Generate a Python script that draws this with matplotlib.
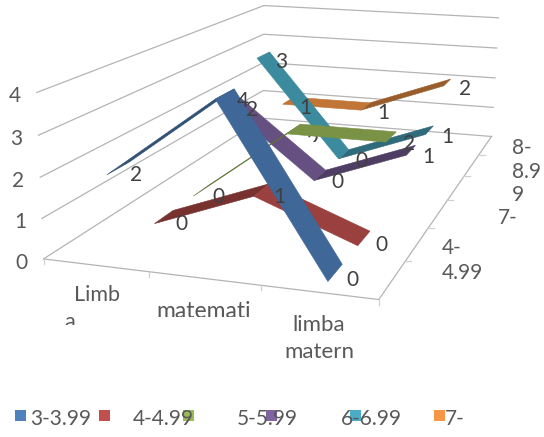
import numpy as np
import matplotlib
matplotlib.use("Agg")
import matplotlib.pyplot as plt
from matplotlib.patches import Polygon, Rectangle

# date
categorii = ["Limba\nromana", "matematica", "limba\nmaterna"]
serii = ["3-3.99", "4-4.99", "5-5.99", "6-6.99", "7-7.99", "8-8.99"]
v_3 = [2, 4, 0]
v_4 = [0, 1, 0]
v_5 = [0, 2, 2]
v_6 = [2, 0, 1]
v_7 = [3, 0, 1]
v_8 = [1, 1, 2]
valori = [v_3, v_4, v_5, v_6, v_7, v_8]  # ultima serie (8-8.99) nu apare in desen
culori = ["#4f81bd", "#c0504d", "#9bbb59", "#8064a2", "#4bacc6", "#f79646"]
y_max = 4

plt.rcParams["font.family"] = "Lato"
W, H = 544, 437
fig = plt.figure(figsize=(W / 100, H / 100), dpi=100)
ax = fig.add_axes([0, 0, 1, 1])
ax.set_xlim(0, W)
ax.set_ylim(H, 0)
ax.axis("off")

# camera: colturile cutiei (u, v, w) -> pixeli
colturi = [
    ((0, 0, 0), (44, 258)), ((1, 0, 0), (379, 300)),
    ((0, 1, 0), (262, 119)), ((1, 1, 0), (492, 136)),
    ((0, 0, 1), (36, 93)), ((0, 1, 1), (265, 5)), ((1, 1, 1), (498, 18)),
]
A = []
for (u, v, w), (x, y) in colturi:
    A.append([u, v, w, 1, 0, 0, 0, 0, -x * u, -x * v, -x * w, -x])
    A.append([0, 0, 0, 0, u, v, w, 1, -y * u, -y * v, -y * w, -y])
P = np.linalg.svd(np.array(A, float))[2][-1].reshape(3, 4)


def proj(u, v, w):
    q = P @ np.array([u, v, w, 1.0])
    return q[0] / q[2], q[1] / q[2]


def pos(i_cat, i_ser, val):
    return proj((i_cat + 0.5) / len(categorii), (i_ser + 0.5) / len(serii), val / y_max)


def umbra(c, f):
    return tuple(x * f for x in matplotlib.colors.to_rgb(c))


def text_taiat(x, y, s, fs, culoare, zona, zorder=3):
    # ax.text pune clip-ul pe axe, deci il setam dupa
    t = ax.text(x, y, s, fontsize=fs, color=culoare, ha="center", va="center", zorder=zorder, clip_on=True)
    t.set_clip_path(Rectangle(zona[:2], zona[2], zona[3], transform=ax.transData))
    return t


gri = "#b4b4b4"
# pereti
for k in range(y_max + 1):
    w = k / y_max
    a, b, c = proj(0, 0, w), proj(0, 1, w), proj(1, 1, w)
    ax.plot([a[0], b[0], c[0]], [a[1], b[1], c[1]], color=gri, lw=0.9, zorder=1)
# podea
a, b, c = proj(0, 0, 0), proj(1, 0, 0), proj(1, 1, 0)
ax.plot([a[0], b[0], c[0]], [a[1], b[1], c[1]], color=gri, lw=0.9, zorder=1)
for k in range(0, len(categorii) + 1):
    x, y = proj(k / len(categorii), 0, 0)
    ax.plot([x, x], [y, y + 5], color="#d0d0d0", lw=0.9, zorder=1)
for k in range(1, len(serii)):
    x, y = proj(1, k / len(serii), 0)
    ax.plot([x - 1, x + 6], [y, y], color="#d0d0d0", lw=0.9, zorder=1)

# panglici, din spate spre fata
lat = 0.23
for i in range(len(valori) - 1, -1, -1):
    vals = valori[i]
    z = 10 + (len(valori) - i) * 2
    for j in range(len(vals) - 1):
        a1 = proj((j + 0.5) / 3, (i + 0.5 - lat) / 6, vals[j] / y_max)
        a2 = proj((j + 1.5) / 3, (i + 0.5 - lat) / 6, vals[j + 1] / y_max)
        b2 = proj((j + 1.5) / 3, (i + 0.5 + lat) / 6, vals[j + 1] / y_max)
        b1 = proj((j + 0.5) / 3, (i + 0.5 + lat) / 6, vals[j] / y_max)
        panta = vals[j + 1] - vals[j]
        f = 0.62 if panta > 0 else (0.78 if panta == 0 else 0.8)
        ax.add_patch(Polygon([a1, a2, b2, b1], closed=True, fc=umbra(culori[i], f),
                             ec=umbra(culori[i], f), lw=0.4, zorder=z - (j if panta > 0 else 0) * 0.1))
    for j, val in enumerate(vals):
        x, y = pos(j, i, val)
        if i == 2 and j == 1:
            # eticheta 2 de la verde: se vede doar partea de sus
            text_taiat(x + 19, y + 13, str(val), 15, "#404040", (x, y, 40, 13), zorder=z - 1)
        else:
            ax.text(x + 17.5, y + 7, str(val), fontsize=15, color="#404040",
                    ha="center", va="center", zorder=40)

text_gri = "#595959"
# axa valorilor
for k in range(y_max + 1):
    x, y = proj(0, 0, k / y_max)
    ax.text(x - 22, y + 4, str(k), fontsize=15, color=text_gri, ha="center", va="center")

# etichete categorii, taiate ca in original
ax.text(97, 295, "Limb", fontsize=15.5, color=text_gri, ha="center", va="center")
text_taiat(70, 322, "a", 15.5, text_gri, (60, 310, 20, 15))
text_taiat(204, 312, "matemati", 16.5, text_gri, (140, 298, 125, 19))
ax.text(319, 325, "limba", fontsize=16, color=text_gri, ha="center", va="center")
ax.text(319, 352, "matern", fontsize=16, color=text_gri, ha="center", va="center")

# axa seriilor
ax.text(442, 248, "4-", fontsize=15, color=text_gri, ha="left", va="center")
ax.text(442, 273, "4.99", fontsize=15, color=text_gri, ha="left", va="center")
ax.text(498, 218, "7-", fontsize=15, color=text_gri, ha="left", va="center")
ax.text(512, 148, "8-", fontsize=15, color=text_gri, ha="left", va="center")
ax.text(512, 172, "8.9", fontsize=15, color=text_gri, ha="left", va="center")
ax.text(512, 195, "9", fontsize=15, color=text_gri, ha="left", va="center")

# legenda
leg_x = [15, 99, 183, 266, 350, 434]
leg_t = [30, 133, 237, 341, 445]
for i, x in enumerate(leg_x):
    ax.add_patch(Rectangle((x, 410), 11, 11, fc=culori[i], ec="none", zorder=2))
for i, x in enumerate(leg_t):
    s = serii[i] if i < 4 else "7-"
    ax.text(x, 419, s, fontsize=15, color=text_gri, ha="left", va="center", zorder=3)

fig.savefig("out.png", dpi=100)
